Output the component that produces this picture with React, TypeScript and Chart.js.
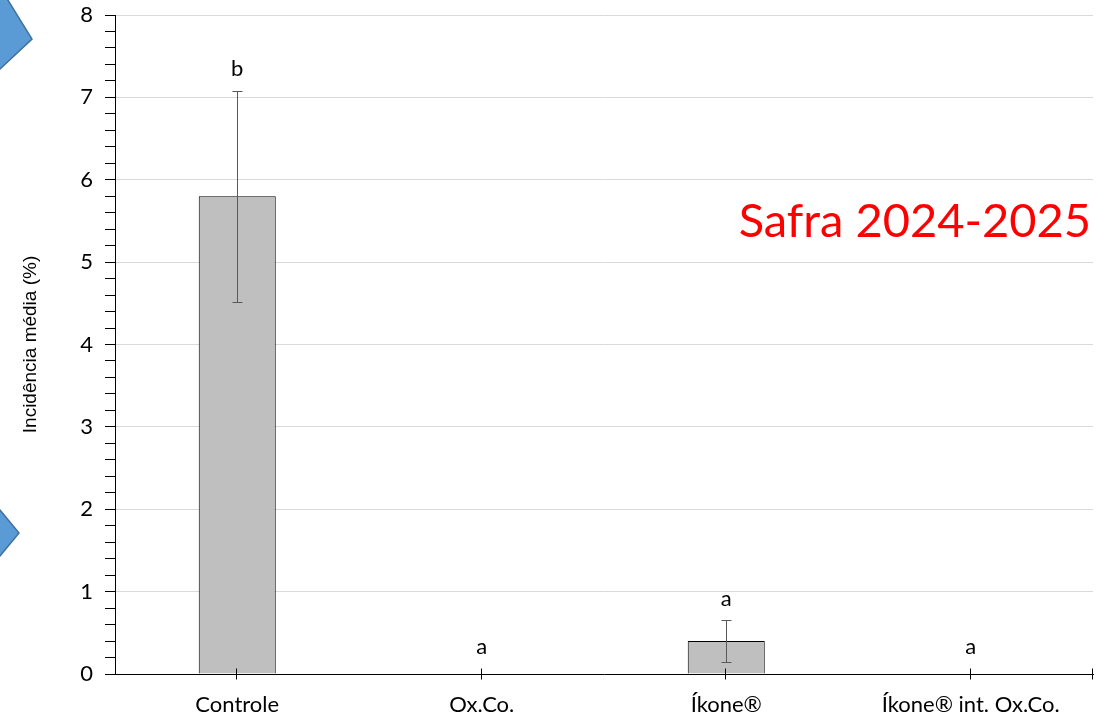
import React, { useEffect, useRef } from "react";
import { Chart, registerables } from "chart.js";

Chart.register(...registerables);

const categories = ["Controle", "Ox.Co.", "Íkone®", "Íkone® int. Ox.Co."];
const means = [5.8, 0, 0.4, 0];
const errors = [1.28, 0, 0.25, 0];
const letters = ["b", "a", "a", "a"];
const yMax = 8;
const yStep = 0.2;
const overlayText = "Safra 2024-2025";
const yTitle = "Incidência média (%)";

const LABEL_FONT = "Lato, 'Open Sans', sans-serif";

const isMajor = (v: number) => Math.abs(v - Math.round(v)) < 1e-6;

const extrasPlugin = {
  id: "extras",
  beforeDraw(chart: any) {
    const ctx = chart.ctx;
    ctx.save();
    ctx.fillStyle = "#ffffff";
    ctx.fillRect(0, 0, chart.width, chart.height);
    ctx.fillStyle = "#5B9BD5";
    ctx.strokeStyle = "#41719C";
    ctx.lineWidth = 1.5;
    const shapes = [
      [[-3, -3], [6, -3], [32, 39], [0, 69], [-3, 69]],
      [[-3, 510], [0, 510], [19, 533], [0, 556], [-3, 556]],
    ];
    for (const s of shapes) {
      ctx.beginPath();
      s.forEach((p, i) => (i ? ctx.lineTo(p[0], p[1]) : ctx.moveTo(p[0], p[1])));
      ctx.closePath();
      ctx.fill();
      ctx.stroke();
    }
    ctx.restore();
  },
  afterDatasetsDraw(chart: any) {
    const ctx = chart.ctx;
    const x = chart.scales.x;
    const y = chart.scales.y;
    const area = chart.chartArea;
    ctx.save();
    ctx.strokeStyle = "#595959";
    ctx.lineWidth = 1;
    means.forEach((m, i) => {
      const e = errors[i];
      if (!e) return;
      const px = Math.round(x.getPixelForValue(i)) + 0.5;
      const yt = Math.round(y.getPixelForValue(m + e)) + 0.5;
      const yb = Math.round(y.getPixelForValue(m - e)) + 0.5;
      ctx.beginPath();
      ctx.moveTo(px, yt);
      ctx.lineTo(px, yb);
      ctx.moveTo(px - 5, yt);
      ctx.lineTo(px + 5, yt);
      ctx.moveTo(px - 5, yb);
      ctx.lineTo(px + 5, yb);
      ctx.stroke();
    });
    ctx.strokeStyle = "#000";
    const ay = Math.round(y.getPixelForValue(0)) + 0.5;
    const tickXs = categories.map((_, i) => x.getPixelForValue(i));
    tickXs.push(area.right);
    ctx.beginPath();
    tickXs.forEach((tx: number) => {
      const px = Math.round(tx) - 0.5;
      ctx.moveTo(px, ay - 6);
      ctx.lineTo(px, ay + 5);
    });
    ctx.stroke();
    ctx.fillStyle = "#000";
    ctx.font = `22px ${LABEL_FONT}`;
    ctx.textAlign = "center";
    ctx.textBaseline = "middle";
    letters.forEach((l, i) => {
      const top = means[i] + errors[i];
      const px = x.getPixelForValue(i);
      const py = y.getPixelForValue(top) - (means[i] ? 22 : 27);
      ctx.fillText(l, px, py);
    });
    ctx.fillStyle = "#FF0000";
    ctx.font = `47px ${LABEL_FONT}`;
    ctx.textAlign = "right";
    ctx.textBaseline = "alphabetic";
    ctx.fillText(overlayText, 1091, 237);
    ctx.restore();
  },
};

export default function App() {
  const ref = useRef<HTMLCanvasElement>(null);
  useEffect(() => {
    const chart = new Chart(ref.current!, {
      type: "bar",
      data: {
        labels: categories,
        datasets: [
          {
            data: means,
            backgroundColor: "#BFBFBF",
            borderColor: "#000000",
            borderWidth: 1,
            categoryPercentage: 1,
            barPercentage: 0.315,
          },
        ],
      },
      options: {
        responsive: false,
        animation: false,
        maintainAspectRatio: false,
        layout: { padding: { top: 15, right: 27, left: 0, bottom: 0 } },
        plugins: { legend: { display: false }, tooltip: { enabled: false } },
        scales: {
          x: {
            grid: { display: false },
            border: { display: true, color: "#000", width: 1 },
            ticks: {
              color: "#000",
              font: { family: LABEL_FONT, size: 22 },
              padding: 10,
              maxRotation: 0,
              autoSkip: false,
            },
            afterFit: (s: any) => {
              s.height = 46;
              s.paddingLeft = 0;
              s.paddingRight = 0;
            },
          },
          y: {
            min: 0,
            max: yMax,
            border: { display: true, color: "#000", width: 1 },
            grid: {
              color: (c: any) => (isMajor(c.tick.value) && c.tick.value > 0 ? "#D9D9D9" : "rgba(0,0,0,0)"),
              tickColor: "#000",
              tickLength: 10,
              drawTicks: true,
            },
            ticks: {
              stepSize: yStep,
              autoSkip: false,
              color: "#000",
              padding: 12,
              font: { family: LABEL_FONT, size: 22 },
              callback: (v: any) => (isMajor(Number(v)) ? String(Math.round(Number(v))) : ""),
            },
            title: {
              display: true,
              text: yTitle,
              color: "#000",
              font: { family: "'Liberation Sans', Arial, sans-serif", size: 19 },
              padding: { top: 19, bottom: 0 },
            },
            afterFit: (s: any) => {
              s.width = 115;
              s.paddingTop = 0;
              s.paddingBottom = 0;
            },
          },
        },
      },
      plugins: [extrasPlugin],
    });
    return () => chart.destroy();
  }, []);
  return (
    <div style={{ position: "fixed", left: 0, top: 0, width: 1120, height: 720, background: "#fff" }}>
      <canvas ref={ref} width={1120} height={720} style={{ width: 1120, height: 720, display: "block" }} />
    </div>
  );
}
